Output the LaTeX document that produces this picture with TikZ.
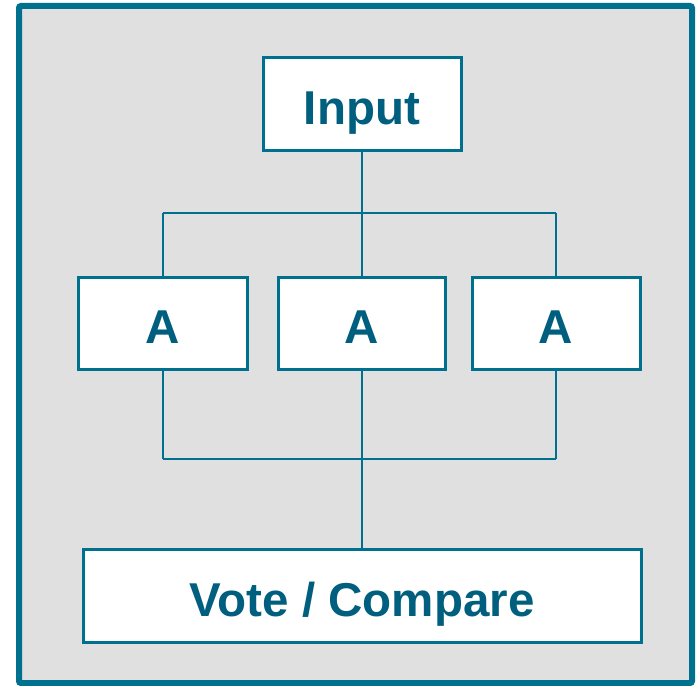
\documentclass[tikz,border=0pt]{standalone}
\usepackage{fontspec}
\setmainfont{Liberation Sans}
\definecolor{teal1}{HTML}{00708F}
\definecolor{tealtext}{HTML}{005F7E}
\definecolor{bggray}{HTML}{E0E0E0}
\tikzset{
  box/.style={draw=teal1, line width=3pt, fill=white, inner sep=0pt, text=tealtext,
    text height=41pt, text depth=0pt,
    font=\fontsize{47.5}{52}\selectfont\bfseries},
  conn/.style={draw=teal1, line width=2pt}
}
\begin{document}
\begin{tikzpicture}[x=1pt,y=-1pt]
\useasboundingbox (0,0) rectangle (700,685);
\draw[line width=6pt, draw=teal1, fill=bggray, rounded corners=2pt] (19,6) rectangle (692,683);
\node[box, minimum width=198pt, minimum height=93pt] (in) at (362,103.5) {Input};
\node[box, minimum width=169pt, minimum height=92pt] (a1) at (162.5,323) {A};
\node[box, minimum width=167pt, minimum height=92pt] (a2) at (361.5,323) {A};
\node[box, minimum width=168pt, minimum height=92pt] (a3) at (556,323) {A};
\node[box, minimum width=558pt, minimum height=93pt] (v) at (362,595.5) {Vote / Compare};
\coordinate (t1) at (163,213);
\coordinate (t2) at (362,213);
\coordinate (t3) at (556,213);
\coordinate (b1) at (163,459);
\coordinate (b2) at (362,459);
\coordinate (b3) at (556,459);
\draw[conn] (in.south) -- (t2);
\draw[conn] (t1) -- (t3);
\draw[conn] (t1) -- (t1 |- a1.north);
\draw[conn] (t2) -- (t2 |- a2.north);
\draw[conn] (t3) -- (t3 |- a3.north);
\draw[conn] (b1 |- a1.south) -- (b1);
\draw[conn] (b2 |- a2.south) -- (b2);
\draw[conn] (b3 |- a3.south) -- (b3);
\draw[conn] (b1) -- (b3);
\draw[conn] (b2) -- (v.north -| b2);
\end{tikzpicture}
\end{document}
